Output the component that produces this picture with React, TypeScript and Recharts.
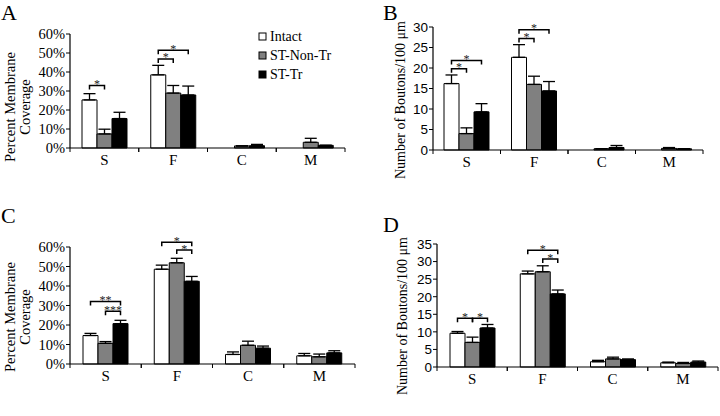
import { BarChart, Bar, XAxis, YAxis, ErrorBar } from 'recharts';

const SERIF = '"Liberation Serif", "Times New Roman", serif';
const SANS = '"Liberation Sans", Arial, sans-serif';

const CATEGORIES = ['S', 'F', 'C', 'M'];
const SERIES = ['Intact', 'ST-Non-Tr', 'ST-Tr'];
const FILLS = ['#ffffff', '#808080', '#000000'];

// Panel A - percent membrane coverage
const A_INTACT = [25.3, 38.5, 0, 0];
const A_NONTR = [7.4, 28.9, 1.1, 3.0];
const A_TR = [15.5, 27.9, 1.2, 1.4];
const A_INTACT_ERR = [3.3, 5.0, 0, 0];
const A_NONTR_ERR = [2.5, 4.0, 0, 2.1];
const A_TR_ERR = [3.3, 4.7, 0.7, 0];

// Panel B - boutons / 100 um
const B_INTACT = [16.2, 22.6, 0, 0];
const B_NONTR = [4.0, 16.0, 0.3, 0.4];
const B_TR = [9.3, 14.4, 0.6, 0.3];
const B_INTACT_ERR = [2.1, 3.1, 0, 0];
const B_NONTR_ERR = [1.4, 2.0, 0, 0.2];
const B_TR_ERR = [2.0, 2.3, 0.5, 0];

// Panel C - percent membrane coverage
const C_INTACT = [14.6, 48.6, 4.9, 4.2];
const C_NONTR = [10.6, 51.9, 9.6, 3.7];
const C_TR = [20.7, 42.4, 8.1, 5.7];
const C_INTACT_ERR = [1.1, 2.1, 1.3, 1.2];
const C_NONTR_ERR = [0.9, 2.3, 2.1, 1.4];
const C_TR_ERR = [1.7, 2.5, 1.1, 1.1];

// Panel D - boutons / 100 um
const D_INTACT = [9.6, 26.5, 1.5, 1.2];
const D_NONTR = [7.0, 27.1, 2.3, 1.0];
const D_TR = [11.1, 20.8, 2.1, 1.4];
const D_INTACT_ERR = [0.5, 0.8, 0.4, 0.2];
const D_NONTR_ERR = [1.5, 1.7, 0.5, 0.3];
const D_TR_ERR = [1.0, 1.1, 0.2, 0.3];

const PCT_TICKS = [0, 10, 20, 30, 40, 50, 60];
const B_TICKS = [0, 5, 10, 15, 20, 25, 30];
const D_TICKS = [0, 5, 10, 15, 20, 25, 30, 35];

// significance brackets: [category index, from series, to series, level, stars]
type Bracket = [number, number, number, number, string];
const A_BRACKETS: Bracket[] = [
  [0, 0, 1, 32.9, '*'],
  [1, 0, 1, 46.9, '*'],
  [1, 0, 2, 51.4, '*'],
];
const B_BRACKETS: Bracket[] = [
  [0, 0, 1, 19.8, '*'],
  [0, 0, 2, 21.8, '*'],
  [1, 0, 1, 27.2, '*'],
  [1, 0, 2, 29.3, '*'],
];
const C_BRACKETS: Bracket[] = [
  [0, 0, 2, 32.1, '**'],
  [0, 1, 2, 27.0, '***'],
  [1, 0, 2, 62.5, '*'],
  [1, 1, 2, 58.4, '*'],
];
const D_BRACKETS: Bracket[] = [
  [0, 0, 1, 13.9, '*'],
  [0, 1, 2, 13.9, '*'],
  [1, 0, 2, 33.2, '*'],
  [1, 1, 2, 30.7, '*'],
];

const buildRows = (vals: number[][], errs: number[][]) =>
  CATEGORIES.map((cat, i) => ({
    cat,
    v0: vals[0][i],
    v1: vals[1][i],
    v2: vals[2][i],
    e0: [0, errs[0][i]],
    e1: [0, errs[1][i]],
    e2: [0, errs[2][i]],
  }));

const makeBracketLabel = (brackets: Bracket[], series: number) => (props: any) => {
  const { x, y, width, height, value, index } = props;
  const mine = brackets.filter((b) => b[0] === index && b[1] === series);
  if (!mine.length || !value) return null;
  const bottom = Number(y) + Number(height);
  const perUnit = Number(height) / Number(value);
  return (
    <g key={`br-${series}-${index}`}>
      {mine.map((b, k) => {
        const by = bottom - b[3] * perUnit;
        const x1 = Number(x) + Number(width) / 2;
        const x2 = x1 + (b[2] - b[1]) * Number(width);
        return (
          <g key={k}>
            <path
              d={`M${x1},${by + 4}V${by}H${x2}V${by + 4}`}
              fill="none"
              stroke="#000"
              strokeWidth={1.5}
            />
            <text
              x={(x1 + x2) / 2}
              y={by + 2.5}
              textAnchor="middle"
              fontFamily={SERIF}
              fontSize={12}
              fill="#222"
              stroke="none"
            >
              {b[4]}
            </text>
          </g>
        );
      })}
    </g>
  );
};

interface PanelProps {
  left: number;
  top: number;
  width: number;
  height: number;
  margin: { top: number; right: number; bottom: number; left: number };
  yWidth: number;
  rows: any[];
  max: number;
  ticks: number[];
  pct: boolean;
  brackets: Bracket[];
}

const Panel = ({ left, top, width, height, margin, yWidth, rows, max, ticks, pct, brackets }: PanelProps) => {
  const band = (width - margin.left - margin.right - yWidth) / CATEGORIES.length;
  const CategoryTick = (p: any) => (
    <g>
      <text x={p.x} y={p.y + 17} textAnchor="middle" fontFamily={SERIF} fontSize={15} fill="#000">
        {p.payload.value}
      </text>
      <line x1={p.x - band / 2} x2={p.x - band / 2} y1={p.y} y2={p.y + 4} stroke="#000" />
      <line x1={p.x + band / 2} x2={p.x + band / 2} y1={p.y} y2={p.y + 4} stroke="#000" />
    </g>
  );
  const ValueTick = (p: any) => (
    <text
      x={p.x}
      y={p.y}
      dy="0.36em"
      textAnchor="end"
      fontFamily={pct ? SERIF : SANS}
      fontSize={pct ? 14.5 : 13.5}
      fill="#000"
    >
      {pct ? `${p.payload.value}%` : `${p.payload.value}`}
    </text>
  );
  return (
    <div style={{ position: 'absolute', left, top }}>
      <BarChart width={width} height={height} data={rows} margin={margin} barGap={0} barSize={15}>
        <XAxis
          dataKey="cat"
          axisLine={{ stroke: '#000', strokeWidth: 1.2 }}
          tickLine={false}
          tickSize={0}
          tickMargin={0}
          tick={CategoryTick}
          interval={0}
        />
        <YAxis
          domain={[0, max]}
          ticks={ticks}
          interval={0}
          width={yWidth}
          tickSize={4}
          tickMargin={1}
          axisLine={{ stroke: '#000', strokeWidth: 1.2 }}
          tickLine={{ stroke: '#000' }}
          tick={ValueTick}
        />
        {SERIES.map((s, i) => (
          <Bar
            key={s}
            dataKey={`v${i}`}
            name={s}
            fill={FILLS[i]}
            stroke="#000"
            strokeWidth={1}
            isAnimationActive={false}
            label={makeBracketLabel(brackets, i)}
          >
            <ErrorBar dataKey={`e${i}`} direction="y" width={6} stroke="#000" strokeWidth={1.3} />
          </Bar>
        ))}
      </BarChart>
    </div>
  );
};

const A_ROWS = buildRows([A_INTACT, A_NONTR, A_TR], [A_INTACT_ERR, A_NONTR_ERR, A_TR_ERR]);
const B_ROWS = buildRows([B_INTACT, B_NONTR, B_TR], [B_INTACT_ERR, B_NONTR_ERR, B_TR_ERR]);
const C_ROWS = buildRows([C_INTACT, C_NONTR, C_TR], [C_INTACT_ERR, C_NONTR_ERR, C_TR_ERR]);
const D_ROWS = buildRows([D_INTACT, D_NONTR, D_TR], [D_INTACT_ERR, D_NONTR_ERR, D_TR_ERR]);

export default function App() {
  return (
    <div style={{ position: 'absolute', left: 0, top: 0, width: 720, height: 416, background: '#fff', overflow: 'hidden' }}>
      <Panel
        left={0} top={0} width={360} height={200}
        margin={{ top: 34, right: 15, bottom: 22, left: 0 }} yWidth={70}
        rows={A_ROWS} max={60} ticks={PCT_TICKS} pct brackets={A_BRACKETS}
      />
      <Panel
        left={360} top={0} width={360} height={200}
        margin={{ top: 27, right: 17, bottom: 20, left: 0 }} yWidth={73}
        rows={B_ROWS} max={30} ticks={B_TICKS} pct={false} brackets={B_BRACKETS}
      />
      <Panel
        left={0} top={200} width={360} height={216}
        margin={{ top: 47, right: 5, bottom: 22, left: 0 }} yWidth={70}
        rows={C_ROWS} max={60} ticks={PCT_TICKS} pct brackets={C_BRACKETS}
      />
      <Panel
        left={360} top={200} width={360} height={216}
        margin={{ top: 44, right: 2, bottom: 19, left: 0 }} yWidth={77}
        rows={D_ROWS} max={35} ticks={D_TICKS} pct={false} brackets={D_BRACKETS}
      />
      <svg width={720} height={416} style={{ position: 'absolute', left: 0, top: 0, pointerEvents: 'none' }}>
        <g fontFamily={SERIF} fill="#000">
          <text x={1} y={20} fontSize={22}>A</text>
          <text x={383} y={20} fontSize={22}>B</text>
          <text x={1} y={223} fontSize={22}>C</text>
          <text x={383} y={232} fontSize={22}>D</text>

          <g fontSize={14.5} textAnchor="middle">
            <text transform="translate(15,107) rotate(-90)">Percent Membrane</text>
            <text transform="translate(30,107) rotate(-90)">Coverage</text>
            <text transform="translate(15,317) rotate(-90)">Percent Membrane</text>
            <text transform="translate(30,317) rotate(-90)">Coverage</text>
          </g>
          <g fontSize={14} textAnchor="middle">
            <text transform="translate(405,100) rotate(-90)">Number of Boutons/100 μm</text>
            <text transform="translate(407,316) rotate(-90)">Number of Boutons/100 μm</text>
          </g>

          {SERIES.map((s, i) => (
            <g key={s}>
              <rect x={259} y={33 + i * 19} width={7} height={7} fill={FILLS[i]} stroke="#000" strokeWidth={1} />
              <text x={270} y={41 + i * 19} fontSize={14}>{s}</text>
            </g>
          ))}
        </g>
      </svg>
    </div>
  );
}
